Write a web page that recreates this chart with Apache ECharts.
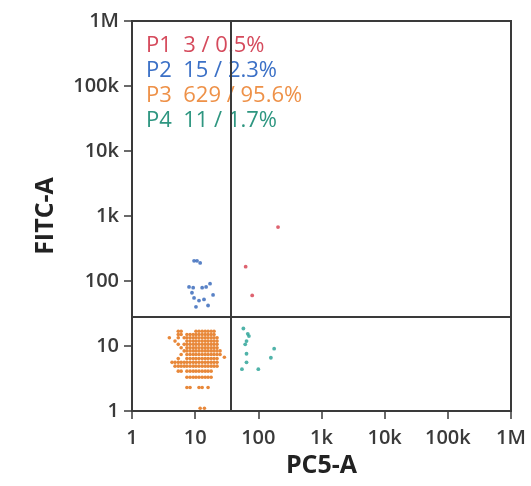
<!DOCTYPE html>
<html>
<head>
<meta charset="utf-8">
<script src="https://cdn.jsdelivr.net/npm/echarts@6/dist/echarts.min.js"></script>
<style>html,body{margin:0;padding:0;background:#fff}#c{width:531px;height:486px}</style>
</head>
<body>
<div id="c"></div>
<script>
const tickLabels = ['1', '10', '100', '1k', '10k', '100k', '1M'];
const xName = 'PC5-A';
const yName = 'FITC-A';
const gateX = 37;
const gateY = 28;
const gateTexts = ['P1  3 / 0.5%', 'P2  15 / 2.3%', 'P3  629 / 95.6%', 'P4  11 / 1.7%'];

const p1 = [[205, 675], [63, 166], [80, 60]];
const p2 = [
  [9.6, 204], [10.7, 204], [12, 190],
  [8.0, 81], [9.3, 79], [12.9, 79], [14.9, 81], [17.2, 91],
  [8.9, 66], [19.2, 61], [9.6, 55], [11.5, 50], [13.8, 52],
  [10.3, 40], [16.0, 42]
];
const p4 = [
  [58, 18.6], [68, 15.4], [71, 14.2], [65, 11.9], [62, 10.6],
  [178, 9.1], [65, 7.6], [158, 6.6], [65, 5.6], [55, 4.4], [100, 4.4]
];
// P3: rows of the dense cloud, [y, [x values]]
const p3Rows = [
  [16.9, [5.4, 6.0, 10.3, 11.5, 12.9, 14.4, 16.0, 17.9, 19.9]],
  [15.0, [5.4, 6.0, 7.4, 8.3, 9.3, 10.3, 11.5, 12.9, 14.4, 16.0, 17.9, 19.9]],
  [13.4, [3.9, 5.4, 6.7, 7.4, 8.3, 9.3, 10.3, 11.5, 12.9, 14.4, 16.0, 17.9, 19.9, 22.2]],
  [11.9, [4.8, 7.4, 8.3, 9.3, 10.3, 11.5, 12.9, 14.4, 16.0, 17.9, 19.9, 22.2]],
  [10.6, [5.4, 6.7, 7.4, 8.3, 9.3, 10.3, 11.5, 12.9, 14.4, 16.0, 17.9, 19.9, 22.2]],
  [9.4, [6.0, 7.4, 8.3, 9.3, 10.3, 11.5, 12.9, 14.4, 16.0, 17.9, 19.9, 22.2]],
  [8.4, [6.7, 7.4, 8.3, 9.3, 10.3, 11.5, 12.9, 14.4, 16.0, 17.9, 19.9, 22.2, 24.8]],
  [7.4, [6.0, 7.4, 8.3, 9.3, 10.3, 11.5, 12.9, 14.4, 16.0, 17.9, 19.9, 22.2, 24.8]],
  [6.4, [5.4, 7.4, 8.3, 9.3, 10.3, 11.5, 12.9, 14.4, 16.0, 17.9, 19.9, 22.2]],
  [5.6, [4.3, 4.8, 5.4, 6.0, 6.7, 7.4, 8.3, 9.3, 10.3, 11.5, 12.9, 14.4, 16.0, 17.9, 19.9, 22.2]],
  [4.9, [4.8, 5.4, 6.0, 6.7, 7.4, 8.3, 9.3, 10.3, 11.5, 12.9, 14.4, 16.0, 17.9, 19.9, 22.2]],
  [4.1, [5.4, 6.0, 7.4, 8.3, 9.3, 10.3, 11.5, 12.9, 14.4, 16.0, 17.9]],
  [3.3, [7.4, 8.3, 9.3, 10.3, 11.5, 12.9, 14.4, 16.0, 17.9]],
  [2.3, [7.4, 8.3, 11.5, 12.9, 16.0]],
  [6.7, [29]],
  [1.1, [12, 14]]
];
const p3 = [];
p3Rows.forEach(r => r[1].forEach(x => p3.push([x, r[0]])));

const colors = { p1: '#d63c4c', p2: '#2f63b8', p3: '#e8883a', p4: '#24a094' };
const textColors = ['#d54a5c', '#3b70c6', '#ee9148', '#2e9680'];

const chart = echarts.init(document.getElementById('c'));
const fmt = v => tickLabels[Math.round(Math.log10(v))] || '';
const axisCommon = {
  type: 'log', logBase: 10, min: 1, max: 1e6, splitNumber: 6,
  axisLine: { show: true, lineStyle: { color: '#3a3a3a', width: 2 } },
  axisTick: { show: true, inside: false, length: 8, lineStyle: { color: '#3a3a3a', width: 1.5 } },
  minorTick: { show: false },
  splitLine: { show: false },
  axisLabel: { formatter: fmt, color: '#3a3a3a', fontSize: 20, fontWeight: 600, fontFamily: 'Open Sans' },
  nameLocation: 'middle',
  nameTextStyle: { color: '#222', fontSize: 25, fontWeight: 'bold', fontFamily: 'Open Sans' }
};
chart.setOption({
  animation: false,
  grid: { left: 132, right: 20, top: 21, bottom: 75, show: true, borderColor: '#3a3a3a', borderWidth: 2, backgroundColor: 'transparent' },
  xAxis: Object.assign({}, axisCommon, { name: xName, nameGap: 39, axisLabel: Object.assign({}, axisCommon.axisLabel, { margin: 17 }) }),
  yAxis: Object.assign({}, axisCommon, { name: yName, nameGap: 74, axisLabel: Object.assign({}, axisCommon.axisLabel, { margin: 13 }) }),
  graphic: gateTexts.map((t, i) => ({
    type: 'text', left: 146, top: 35 + i * 25, z: 1,
    style: { text: t, fill: textColors[i], fontSize: 22, fontWeight: 500, fontFamily: 'Open Sans' }
  })),
  series: [
    { type: 'scatter', data: p3, symbolSize: 3.6, itemStyle: { color: colors.p3, opacity: 1 }, z: 3 },
    { type: 'scatter', data: p2, symbolSize: 3.8, itemStyle: { color: colors.p2 }, z: 3 },
    { type: 'scatter', data: p1, symbolSize: 3.8, itemStyle: { color: colors.p1 }, z: 3 },
    { type: 'scatter', data: p4, symbolSize: 3.8, itemStyle: { color: colors.p4 }, z: 3,
      markLine: {
        silent: true, symbol: 'none', label: { show: false }, animation: false,
        lineStyle: { color: '#3a3a3a', width: 2, type: 'solid' },
        data: [{ xAxis: gateX }, { yAxis: gateY }]
      }
    }
  ]
});
</script>
</body>
</html>
